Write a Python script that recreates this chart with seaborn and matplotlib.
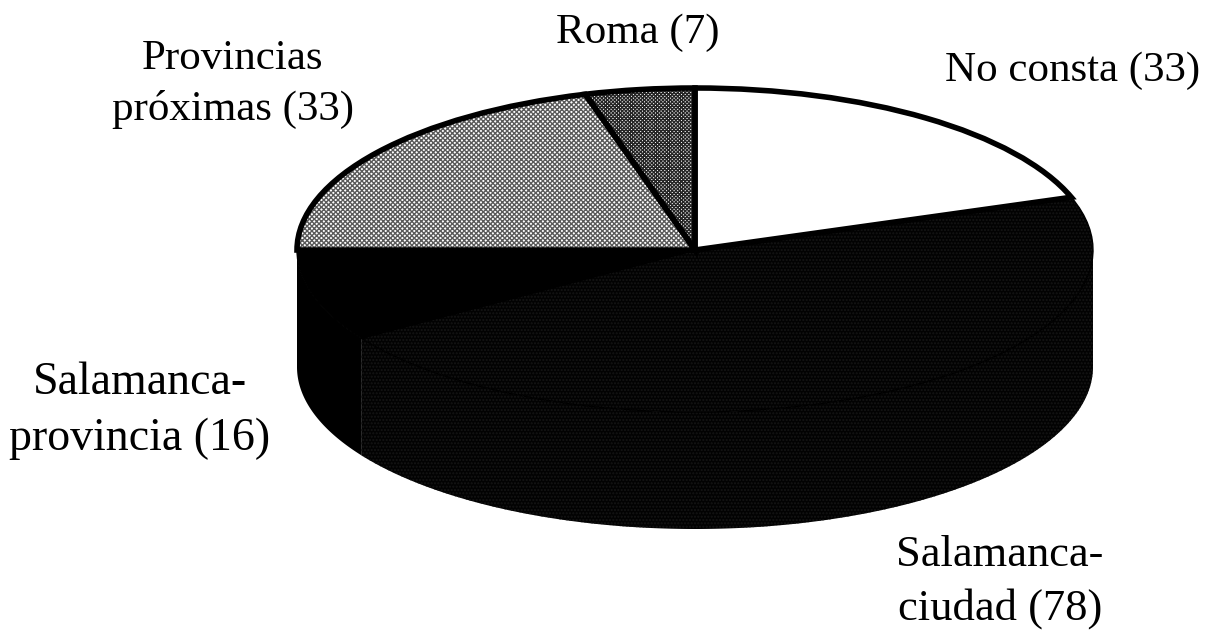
import numpy as np
import seaborn as sns
import matplotlib.pyplot as plt

# Slice order runs clockwise from 12 o'clock, angles measured on the picture
categories = ['No consta', 'Salamanca-\nciudad', 'Salamanca-\nprovincia', 'Provincias\npróximas', 'Roma']
counts = [33, 78, 16, 33, 7]
slice_degrees = [71, 166, 33, 74, 16]
label_pos = [(1073, 71), (1000, 582), (140, 411), (233, 84), (638, 33)]
label_sizes = [31, 32, 33, 31, 31]

W, H = 1208, 633
CX, CY, RX, RY = 695, 250, 398, 162
DEPTH = 117 / RY

sns.set_theme(style='white')
plt.rcParams['font.family'] = ['Liberation Serif', 'DejaVu Serif']

# white, near black, black, light grey, dark grey
faces = sns.color_palette(['#ffffff', '#020202', '#000000', '#ffffff', '#ffffff'])
dots = ['#ffffff', '#151515', '#000000', '#5a5a5a', '#262626']
hatches = ['', '.....', '', 'xxxxxxx', 'xxxxxxxxx']
rim_widths = [4, 1, 1, 4, 4]

fig = plt.figure(figsize=(W / 100, H / 100), dpi=100)
ax = fig.add_axes([0, 0, 1, 1])

# side wall, only the part facing the viewer
edges = np.cumsum([0] + slice_degrees)
for i in [1, 2]:
    start, stop = max(edges[i], 90), edges[i + 1]
    theta = np.radians(np.linspace(start, stop, 200))
    x = np.sin(theta)
    y = np.cos(theta)
    ax.fill_between(x, y, y - DEPTH, facecolor=faces[i], edgecolor=dots[i],
                    hatch=hatches[i], linewidth=0)

# top face: textures first, then the black outlines on top
wedges, _ = ax.pie(slice_degrees, startangle=90, counterclock=False, colors=faces,
                   wedgeprops=dict(linewidth=0))
for w, c, h in zip(wedges, dots, hatches):
    w.set_edgecolor(c)
    w.set_hatch(h)
rims, _ = ax.pie(slice_degrees, startangle=90, counterclock=False,
                 wedgeprops=dict(fill=False, edgecolor='black'))
for rim, lw in zip(rims, rim_widths):
    rim.set_linewidth(lw)

ax.set_aspect('auto')
ax.set_xlim(-CX / RX, (W - CX) / RX)
ax.set_ylim(-(H - CY) / RY, CY / RY)
ax.axis('off')

for name, n, (px, py), size in zip(categories, counts, label_pos, label_sizes):
    fig.text(px / W, 1 - py / H, f'{name} ({n})', ha='center', va='center',
             fontsize=size, linespacing=1.4, color='black')

fig.savefig('out.png', dpi=100)
